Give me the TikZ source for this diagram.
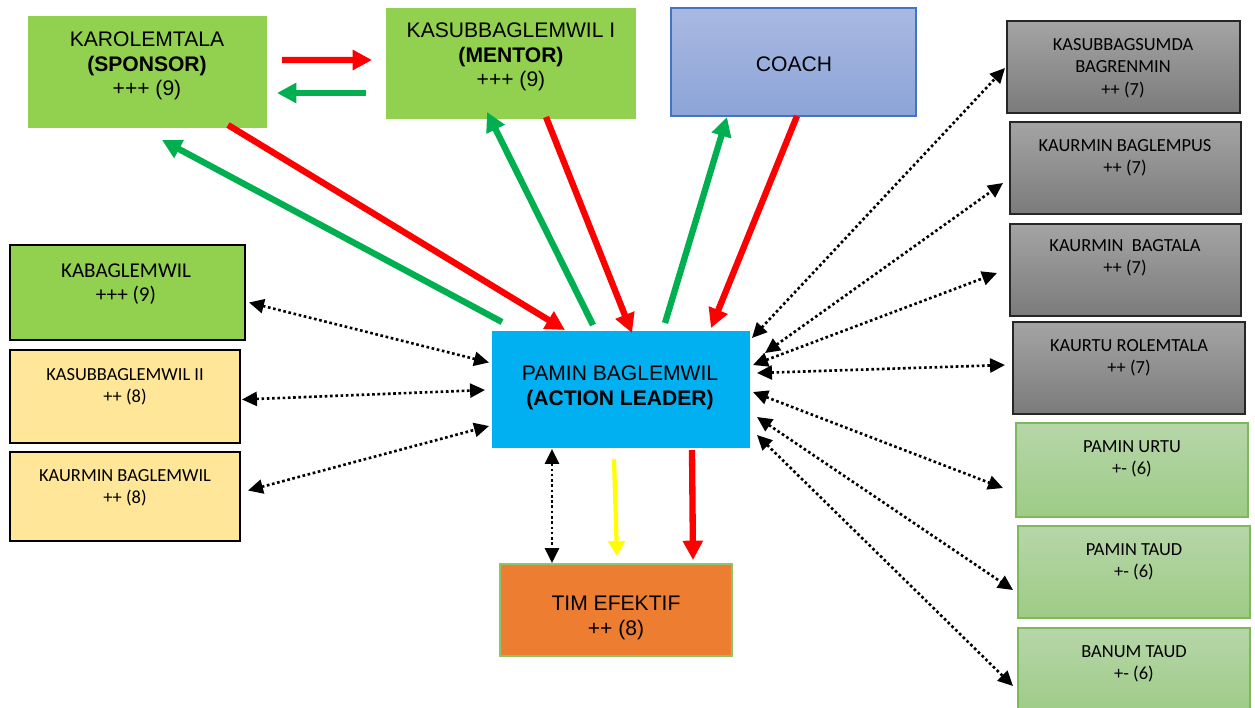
\documentclass[tikz,border=0pt]{standalone}
\usepackage{fontspec}
\setmainfont{Liberation Sans}
\newfontfamily\calibfont{Carlito}
\usetikzlibrary{arrows.meta,calc,fit}

\definecolor{leafgreen}{HTML}{92D050}
\definecolor{paleyellow}{HTML}{FFE699}
\definecolor{skyblue}{HTML}{00B0F0}
\definecolor{teamorange}{HTML}{ED7D31}
\definecolor{arrowred}{HTML}{FF0000}
\definecolor{arrowgreen}{HTML}{00B050}
\definecolor{arrowyellow}{HTML}{FFFF00}
\definecolor{greytop}{HTML}{A4A4A4}
\definecolor{greybot}{HTML}{7B7B7B}
\definecolor{greyline}{HTML}{262626}
\definecolor{mintop}{HTML}{B6D6A8}
\definecolor{minbot}{HTML}{9ECB86}
\definecolor{minline}{HTML}{7DB95A}
\definecolor{coachtop}{HTML}{A9B9E1}
\definecolor{coachbot}{HTML}{8CA4D8}
\definecolor{coachline}{HTML}{4472C4}
\definecolor{teamline}{HTML}{8CC56A}

\begin{document}
\begin{tikzpicture}[x=0.02cm,y=-0.02cm,
  frame/.style={inner sep=0pt, outer sep=0pt},
  plaingreen/.style={frame, fill=leafgreen},
  framedgreen/.style={frame, fill=leafgreen, draw=black, line width=1.1pt},
  framedyellow/.style={frame, fill=paleyellow, draw=black, line width=1.1pt},
  greybox/.style={frame, top color=greytop, bottom color=greybot, draw=greyline, line width=0.9pt},
  mintbox/.style={frame, top color=mintop, bottom color=minbot, draw=minline, line width=0.8pt},
  coachbox/.style={frame, top color=coachtop, bottom color=coachbot, draw=coachline, line width=0.9pt},
  leaderbox/.style={frame, fill=skyblue},
  teambox/.style={frame, fill=teamorange, draw=teamline, line width=0.6pt},
  arialtext/.style={inner sep=0pt, align=center, font=\fontsize{12}{14}\selectfont},
  calibtext/.style={inner sep=0pt, align=center, font=\calibfont\fontsize{10.5}{12.8}\selectfont},
  calibbig/.style={inner sep=0pt, align=center, font=\calibfont\fontsize{12}{14}\selectfont},
  redarrow/.style={draw=arrowred, line width=3.6pt, -{Triangle[length=11pt,width=11pt]}},
  greenarrow/.style={draw=arrowgreen, line width=3.6pt, -{Triangle[length=11pt,width=11pt]}},
  yellowarrow/.style={draw=arrowyellow, line width=2.4pt, -{Triangle[length=8.5pt,width=9.5pt]}},
  dotlink/.style={draw=black, line width=1.5pt, dash pattern=on 1.5pt off 1.5pt,
    {Triangle[length=8.5pt,width=8pt]}-{Triangle[length=8.5pt,width=8pt]}}
]
\useasboundingbox (0,0) rectangle (1255,707);

% ---------- boxes ----------
\node[plaingreen,   fit={(28,16)(267,128)}]   (sp) {};
\node[plaingreen,   fit={(386,8)(636,119)}]   (me) {};
\node[coachbox,     fit={(671,8)(916,116)}]   (co) {};
\node[greybox,      fit={(1007,21)(1240,113)}]  (g1) {};
\node[greybox,      fit={(1010,122)(1241,214)}] (g2) {};
\node[greybox,      fit={(1010,224)(1241,316)}] (g3) {};
\node[greybox,      fit={(1013,322)(1245,414)}] (g4) {};
\node[mintbox,      fit={(1016,423)(1248,517)}] (p1) {};
\node[mintbox,      fit={(1018,526)(1250,618)}] (p2) {};
\node[mintbox,      fit={(1018,628)(1250,714)}] (p3) {};
\node[framedgreen,  fit={(10,245)(245,340)}]  (kb) {};
\node[framedyellow, fit={(10,350)(240,443)}]  (k2) {};
\node[framedyellow, fit={(10,452)(240,541)}]  (k3) {};
\node[leaderbox,    fit={(492,331)(750,448)}] (al) {};
\node[teambox,      fit={(500,564)(732,656)}] (te) {};

% ---------- texts ----------
\node[arialtext] (spt) at (147,66)  {KAROLEMTALA\\\textbf{(SPONSOR)}\\+++ (9)};
\node[arialtext] (met) at (511,57)  {KASUBBAGLEMWIL I\\\textbf{(MENTOR)}\\+++ (9)};
\node[arialtext] (cot) at (794,64)  {COACH};
\node[arialtext] (alt) at (620,388) {PAMIN BAGLEMWIL\\\textbf{(ACTION LEADER)}};
\node[arialtext] (tet) at (616,618) {TIM EFEKTIF\\++ (8)};
\node[calibtext] (g1t) at (1123,68)  {KASUBBAGSUMDA\\BAGRENMIN\\++ (7)};
\node[calibtext] (g2t) at (1125,158) {KAURMIN BAGLEMPUS\\++ (7)};
\node[calibtext] (g3t) at (1125,258) {KAURMIN\ \ BAGTALA\\++ (7)};
\node[calibtext] (g4t) at (1129,358) {KAURTU ROLEMTALA\\++ (7)};
\node[calibtext] (p1t) at (1132,459) {PAMIN URTU\\+- (6)};
\node[calibtext] (p2t) at (1134,562) {PAMIN TAUD\\+- (6)};
\node[calibtext] (p3t) at (1134,664) {BANUM TAUD\\+- (6)};
\node[calibbig]  (kbt) at (126,284) {KABAGLEMWIL\\+++ (9)};
\node[calibtext] (k2t) at (125,387) {KASUBBAGLEMWIL II\\++ (8)};
\node[calibtext] (k3t) at (125,488) {KAURMIN BAGLEMWIL\\++ (8)};

% ---------- sponsor / mentor / coach links ----------
\draw[redarrow]   ($(sp.east)+(15,-12)$)     -- ($(me.west)+(-14,-3.5)$);
\draw[greenarrow] ($(me.west)+(-20,29.5)$)   -- ($(sp.east)+(10,21)$);
\draw[redarrow]   ($(sp.south)+(80.5,-3)$)   -- ($(al.north)+(-56,-1)$);
\draw[greenarrow] ($(al.north west)+(10,-9)$) -- ($(sp.south)+(14.5,12)$);
\draw[greenarrow] ($(al.north)+(-28,-6)$)    -- ($(me.south)+(-24,-7)$);
\draw[redarrow]   ($(me.south)+(35,-2)$)     -- ($(al.north)+(11,2)$);
\draw[greenarrow] ($(al.north)+(44,-8)$)     -- ($(co.south)+(-66.5,1)$);
\draw[redarrow]   ($(co.south)+(3.5,0)$)     -- ($(al.north)+(90,-3)$);

% ---------- action leader to team ----------
\draw[yellowarrow] ($(al.south)+(-7,11)$) -- ($(te.north)+(1,-8)$);
\draw[redarrow]    ($(al.south)+(71,2)$)  -- ($(te.north)+(77,-4)$);
\draw[dotlink]     ($(al.south)+(-69,1)$) -- ($(te.north)+(-64,-1)$);

% ---------- left side links ----------
\draw[dotlink] ($(kb.east)+(4,10)$)  -- ($(al.west)+(-3,-27)$);
\draw[dotlink] ($(k2.east)+(2,3)$)   -- ($(al.west)+(-7,0.5)$);
\draw[dotlink] ($(k3.east)+(8,-6)$)  -- ($(al.west)+(-3,36.5)$);

% ---------- right side links ----------
\draw[dotlink] ($(al.north east)+(2,7)$) -- ($(g1.west)+(-2,1)$);
\draw[dotlink] ($(al.east)+(15,-36.5)$)  -- ($(g2.west)+(-7,15)$);
\draw[dotlink] ($(al.east)+(3,-24.5)$)   -- ($(g3.west)+(-13,3)$);
\draw[dotlink] ($(al.east)+(7,-16.5)$)   -- ($(g4.west)+(-8,-3)$);
\draw[dotlink] ($(al.east)+(3,2.5)$)     -- ($(p1.west)+(-13,18)$);
\draw[dotlink] ($(al.east)+(7,27.5)$)    -- ($(p2.west)+(-5,18)$);
\draw[dotlink] ($(al.east)+(7,45.5)$)    -- ($(p3.west)+(-5,15)$);
\end{tikzpicture}
\end{document}
